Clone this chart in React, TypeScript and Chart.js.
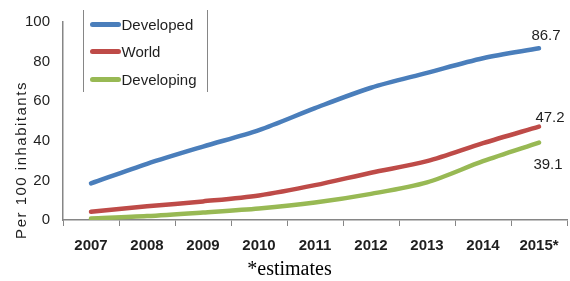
import React, { useEffect, useRef } from "react";
import { Chart, registerables } from "chart.js";

Chart.register(...registerables);

// ---- data ----
const years = ["2007", "2008", "2009", "2010", "2011", "2012", "2013", "2014", "2015*"];
const developed = [18.5, 28.4, 37.1, 45.4, 56.5, 66.8, 74.3, 81.7, 86.7];
const world = [4.2, 6.9, 9.4, 12.4, 17.6, 23.9, 29.7, 38.8, 47.2];
const developing = [0.8, 2.0, 3.8, 5.8, 8.8, 13.2, 19.0, 29.7, 39.1];
const seriesNames = ["Developed", "World", "Developing"];
const yMin = 0;
const yMax = 100;
const yStep = 20;
const yTitle = "Per 100 inhabitants";
const xNote = "*estimates";

// ---- styles ----
const seriesColors = ["#4A7EBB", "#BE4B48", "#98B954"];
const endLabelOffsets = [
  { dx: 7, dy: -12 },
  { dx: 11, dy: -9 },
  { dx: 9, dy: 22 },
];
const SANS = '"Liberation Sans", Arial, sans-serif';
const SERIF = '"Liberation Serif", "Times New Roman", serif';
const AXIS = "#868686";
const TEXT = "#1f1f1f";

const endLabelsPlugin = {
  id: "endLabels",
  afterDatasetsDraw(chart: any) {
    const ctx = chart.ctx;
    ctx.save();
    ctx.font = `15px ${SANS}`;
    ctx.fillStyle = TEXT;
    ctx.textAlign = "center";
    ctx.textBaseline = "middle";
    chart.data.datasets.forEach((ds: any, i: number) => {
      const meta = chart.getDatasetMeta(i);
      const pt = meta.data[meta.data.length - 1];
      const v = ds.data[ds.data.length - 1];
      const o = endLabelOffsets[i];
      ctx.fillText(Number(v).toFixed(1), pt.x + o.dx, pt.y + o.dy);
    });
    ctx.restore();
  },
};

const yTitlePlugin = {
  id: "yTitleCustom",
  afterDraw(chart: any) {
    const ctx = chart.ctx;
    const { top, bottom } = chart.chartArea;
    ctx.save();
    ctx.translate(22, (top + bottom) / 2 + 39);
    ctx.rotate(-Math.PI / 2);
    ctx.font = `15px ${SANS}`;
    try {
      (ctx as any).letterSpacing = "1.5px";
    } catch (e) {}
    ctx.fillStyle = TEXT;
    ctx.textAlign = "center";
    ctx.textBaseline = "middle";
    ctx.fillText(yTitle, 0, 0);
    ctx.restore();
  },
};

export default function App() {
  const ref = useRef<HTMLCanvasElement>(null);

  useEffect(() => {
    if (!ref.current) return;
    const seriesData = [developed, world, developing];
    const chart = new Chart(ref.current, {
      type: "line",
      data: {
        labels: years,
        datasets: seriesNames.map((name, i) => ({
          label: name,
          data: seriesData[i],
          borderColor: seriesColors[i],
          backgroundColor: seriesColors[i],
          borderWidth: 4.5,
          borderCapStyle: "round",
          borderJoinStyle: "round",
          pointRadius: 0,
          tension: 0.3,
          fill: false,
        })),
      },
      options: {
        animation: false,
        responsive: false,
        maintainAspectRatio: false,
        layout: { padding: { left: 12, right: 3, top: 18, bottom: 0 } },
        plugins: {
          legend: { display: false },
          tooltip: { enabled: false },
          title: {
            display: true,
            position: "bottom",
            text: xNote,
            color: "#000",
            font: { family: SERIF, size: 20, weight: "normal", lineHeight: 1 },
            padding: { top: 0, bottom: 1 },
          },
        },
        scales: {
          x: {
            offset: true,
            grid: {
              display: true,
              offset: true,
              drawOnChartArea: false,
              drawTicks: true,
              tickLength: 6,
              color: AXIS,
              lineWidth: 1,
            },
            border: { display: true, color: AXIS, width: 1.5 },
            ticks: {
              font: { family: SANS, size: 15, weight: "bold" },
              color: TEXT,
              padding: 11,
              maxRotation: 0,
              autoSkip: false,
            },
            afterFit: (s: any) => {
              s.height = 40;
            },
          },
          y: {
            min: yMin,
            max: yMax,
            ticks: {
              stepSize: yStep,
              padding: 13,
              font: { family: SANS, size: 15 },
              color: TEXT,
            },
            grid: { display: false, drawTicks: false },
            border: { display: true, color: AXIS, width: 1.5 },
            afterFit: (s: any) => {
              s.width = 51;
            },
          },
        },
      } as any,
      plugins: [endLabelsPlugin, yTitlePlugin],
    } as any);
    return () => chart.destroy();
  }, []);

  return (
    <div
      style={{
        position: "absolute",
        left: 0,
        top: 0,
        width: 570,
        height: 281,
        background: "#fff",
        overflow: "hidden",
      }}
    >
      <canvas ref={ref} width={570} height={281} style={{ display: "block" }} />
      <div
        style={{
          position: "absolute",
          left: 83,
          top: 10,
          width: 125,
          height: 82,
          borderLeft: `1.5px solid ${AXIS}`,
          borderRight: `1.5px solid ${AXIS}`,
          boxSizing: "border-box",
          fontFamily: SANS,
          fontSize: 15,
          color: TEXT,
        }}
      >
        {seriesNames.map((name, i) => (
          <div
            key={name}
            style={{
              position: "absolute",
              left: 5.5,
              top: 5.5 + i * 27.5,
              height: 17,
              display: "flex",
              alignItems: "center",
              whiteSpace: "nowrap",
            }}
          >
            <span
              style={{
                display: "inline-block",
                width: 31,
                height: 5,
                borderRadius: 2.5,
                background: seriesColors[i],
              }}
            />
            <span style={{ marginLeft: 1 }}>{name}</span>
          </div>
        ))}
      </div>
    </div>
  );
}
